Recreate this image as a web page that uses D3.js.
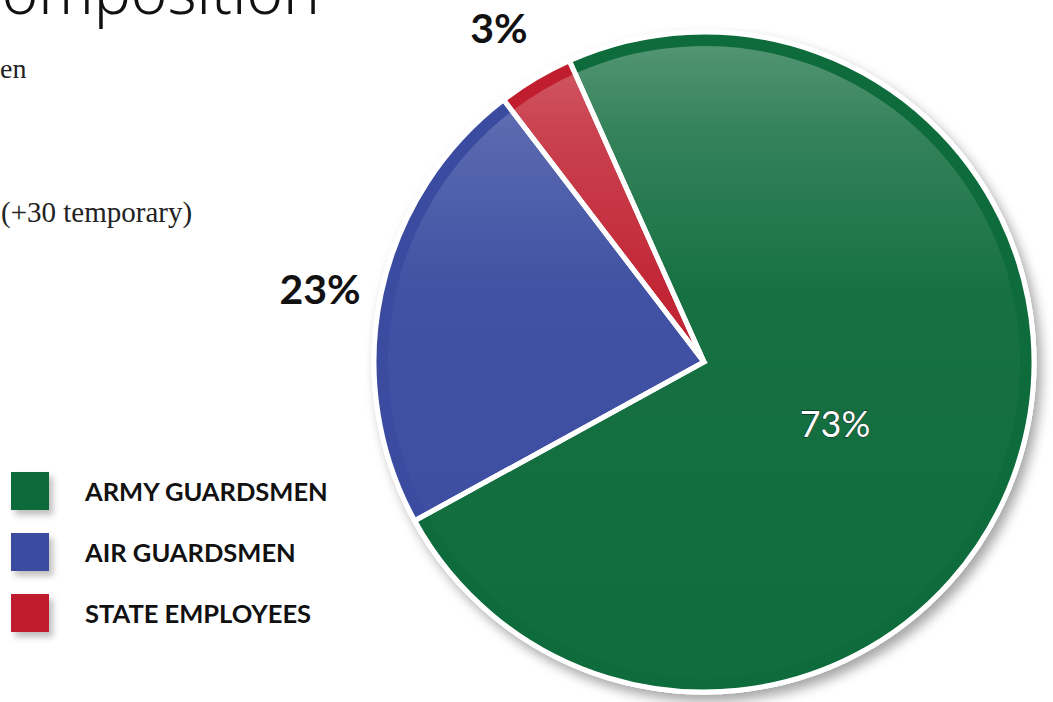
<!DOCTYPE html>
<html>
<head>
<meta charset="utf-8">
<script src="https://cdn.jsdelivr.net/npm/d3@7"></script>
<style>
  body { margin: 0; background: #fff; }
  svg { display: block; }
</style>
</head>
<body>
<svg id="chart"></svg>
<script>
// Force composition (share of personnel)
const categories = ["ARMY GUARDSMEN", "AIR GUARDSMEN", "STATE EMPLOYEES"];
const shares = [73.7, 22.6, 3.7];
const pctLabels = ["73%", "23%", "3%"];
const colors = ["#0e6b3b", "#3a4ba0", "#c01e2e"];

const width = 1053, height = 702;
const cx = 704, cy = 362, radius = 330;

const svg = d3.select("#chart")
    .attr("width", width)
    .attr("height", height);

const defs = svg.append("defs");

// pie drop shadow
const shadow = defs.append("filter").attr("id", "pieShadow")
    .attr("x", "-10%").attr("y", "-10%").attr("width", "125%").attr("height", "125%");
shadow.append("feDropShadow")
    .attr("dx", 5).attr("dy", 7).attr("stdDeviation", 6)
    .attr("flood-color", "#000").attr("flood-opacity", 0.35);

const boxShadow = defs.append("filter").attr("id", "boxShadow")
    .attr("x", "-30%").attr("y", "-30%").attr("width", "180%").attr("height", "180%");
boxShadow.append("feDropShadow")
    .attr("dx", 4).attr("dy", 5).attr("stdDeviation", 3)
    .attr("flood-color", "#000").attr("flood-opacity", 0.25);

// glossy highlight on the inner disc (coords are relative to pie centre)
const gloss = defs.append("linearGradient").attr("id", "gloss")
    .attr("gradientUnits", "userSpaceOnUse")
    .attr("x1", 0).attr("y1", -radius)
    .attr("x2", 0).attr("y2", radius);
gloss.append("stop").attr("offset", "0%").attr("stop-color", "#fff").attr("stop-opacity", 0.3);
gloss.append("stop").attr("offset", "15%").attr("stop-color", "#fff").attr("stop-opacity", 0.16);
gloss.append("stop").attr("offset", "40%").attr("stop-color", "#fff").attr("stop-opacity", 0.035);
gloss.append("stop").attr("offset", "100%").attr("stop-color", "#fff").attr("stop-opacity", 0.01);

// Title and side text (cut off in the original crop)
svg.append("text")
    .attr("x", 320).attr("y", 14)
    .attr("text-anchor", "end")
    .style("font-family", "'Noto Sans', sans-serif")
    .style("font-weight", 300)
    .style("font-size", "62px")
    .style("fill", "#111")
    .text("Composition");

svg.append("text")
    .attr("x", 0).attr("y", 78)
    .style("font-family", "'Liberation Serif', serif")
    .style("font-size", "28px")
    .style("fill", "#222")
    .text("en");

svg.append("text")
    .attr("x", 1).attr("y", 222)
    .style("font-family", "'Liberation Serif', serif")
    .style("font-size", "29px")
    .style("fill", "#222")
    .text("(+30 temporary)");

// Pie
const data = categories.map((c, i) => ({name: c, value: shares[i], color: colors[i], label: pctLabels[i]}));

const startA = -24.07 * Math.PI / 180;
const pie = d3.pie()
    .sort(null)
    .value(d => d.value)
    .startAngle(startA)
    .endAngle(startA + 2 * Math.PI);

const arcs = pie(data);

const arcOuter = d3.arc().innerRadius(0).outerRadius(radius);
const arcInner = d3.arc().innerRadius(0).outerRadius(radius - 14);

const pieG = svg.append("g")
    .attr("transform", `translate(${cx},${cy})`);

pieG.append("circle")
    .attr("r", radius + 2.5)
    .attr("fill", "#fff")
    .attr("filter", "url(#pieShadow)");

pieG.selectAll("path.slice")
    .data(arcs)
    .join("path")
    .attr("class", "slice")
    .attr("d", arcOuter)
    .attr("fill", d => d.data.color);

pieG.selectAll("path.gloss")
    .data(arcs)
    .join("path")
    .attr("class", "gloss")
    .attr("d", arcInner)
    .attr("fill", "url(#gloss)");

// white separators
pieG.selectAll("path.sep")
    .data(arcs)
    .join("path")
    .attr("class", "sep")
    .attr("d", arcOuter)
    .attr("fill", "none")
    .attr("stroke", "#fff")
    .attr("stroke-width", 5)
    .attr("stroke-linejoin", "miter");

// percent labels
const labelPos = [
    {x: 835, y: 437, fill: "#fff", stroke: "#111", size: 36, weight: 400},
    {x: 320, y: 304, fill: "#111", stroke: "none", size: 41, weight: 700},
    {x: 499, y: 43, fill: "#111", stroke: "none", size: 41, weight: 700}
];

svg.append("g").selectAll("text.pct")
    .data(arcs)
    .join("text")
    .attr("class", "pct")
    .attr("x", (d, i) => labelPos[i].x)
    .attr("y", (d, i) => labelPos[i].y)
    .attr("text-anchor", "middle")
    .style("font-family", "Lato, sans-serif")
    .style("font-size", (d, i) => labelPos[i].size + "px")
    .style("font-weight", (d, i) => labelPos[i].weight)
    .style("fill", (d, i) => labelPos[i].fill)
    .style("stroke", (d, i) => labelPos[i].stroke)
    .style("stroke-width", 0.8)
    .style("paint-order", "stroke")
    .text(d => d.data.label);

// Legend
const legend = svg.append("g").attr("transform", "translate(11,472)");
const legendY = d3.scalePoint().domain(categories).range([0, 122]);

legend.selectAll("rect")
    .data(data)
    .join("rect")
    .attr("x", 0)
    .attr("y", d => legendY(d.name))
    .attr("width", 38)
    .attr("height", 38)
    .attr("fill", d => d.color)
    .attr("filter", "url(#boxShadow)");

legend.selectAll("text")
    .data(data)
    .join("text")
    .attr("x", 74)
    .attr("y", d => legendY(d.name) + 29)
    .style("font-family", "Lato, sans-serif")
    .style("font-weight", 700)
    .style("font-size", "25.5px")
    .style("fill", "#111")
    .text(d => d.name);
</script>
</body>
</html>
